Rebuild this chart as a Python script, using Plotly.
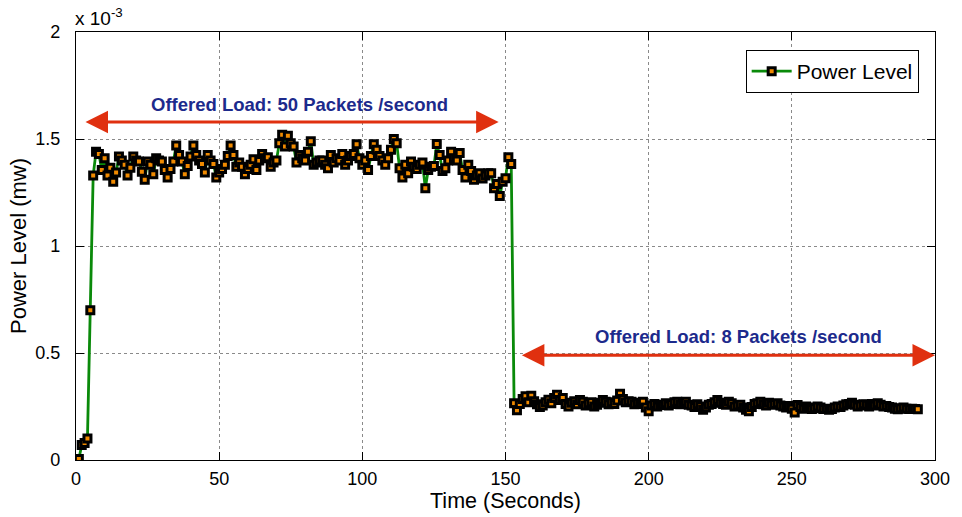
import plotly.graph_objects as go

# Sampling instants (seconds)
time_s = list(range(0, 295))

# Power level in units of 1e-3 mW, phase 1 (50 packets/s), t = 0..152
power_phase1 = [
    0.0, 0.005, 0.07, 0.08, 0.10, 0.70, 1.33, 1.44, 1.43, 1.355,
    1.41, 1.33, 1.366, 1.30, 1.343, 1.418, 1.40, 1.38, 1.33, 1.366,
    1.418, 1.40, 1.395, 1.347, 1.31, 1.395, 1.38, 1.335, 1.41, 1.40,
    1.395, 1.355, 1.32, 1.36, 1.395, 1.47, 1.425, 1.395, 1.335, 1.374,
    1.418, 1.47, 1.425, 1.40, 1.383, 1.343, 1.425, 1.40, 1.383, 1.32,
    1.343, 1.36, 1.38, 1.42, 1.47, 1.425, 1.37, 1.39, 1.37, 1.335,
    1.36, 1.38, 1.405, 1.355, 1.40, 1.43, 1.41, 1.415, 1.37, 1.39,
    1.40, 1.48, 1.52, 1.465, 1.515, 1.48, 1.465, 1.39, 1.425, 1.41,
    1.40, 1.44, 1.49, 1.38, 1.39, 1.40, 1.40, 1.38, 1.363, 1.425,
    1.39, 1.41, 1.40, 1.43, 1.38, 1.40, 1.42, 1.43, 1.475, 1.41,
    1.38, 1.40, 1.355, 1.42, 1.475, 1.45, 1.42, 1.40, 1.38, 1.41,
    1.45, 1.50, 1.48, 1.363, 1.32, 1.38, 1.34, 1.395, 1.37, 1.36,
    1.38, 1.39, 1.27, 1.355, 1.37, 1.374, 1.477, 1.425, 1.35, 1.363,
    1.40, 1.44, 1.41, 1.40, 1.434, 1.355, 1.32, 1.38, 1.35, 1.31,
    1.33, 1.34, 1.315, 1.33, 1.34, 1.34, 1.27, 1.29, 1.234, 1.30,
    1.317, 1.415, 1.383,
]

# Phase 2 (8 packets/s), t = 153..294
power_phase2 = [
    0.265, 0.232, 0.262, 0.285, 0.298, 0.27, 0.30, 0.275, 0.26, 0.248,
    0.255, 0.27, 0.282, 0.265, 0.29, 0.305, 0.28, 0.29, 0.262, 0.25,
    0.268, 0.275, 0.26, 0.28, 0.272, 0.255, 0.265, 0.27, 0.25, 0.258,
    0.268, 0.28, 0.272, 0.26, 0.27, 0.262, 0.278, 0.31, 0.285, 0.27,
    0.275, 0.272, 0.26, 0.268, 0.262, 0.272, 0.245, 0.228, 0.255, 0.262,
    0.25, 0.258, 0.257, 0.265, 0.255, 0.262, 0.27, 0.272, 0.26, 0.268,
    0.272, 0.258, 0.255, 0.248, 0.26, 0.25, 0.235, 0.245, 0.258, 0.262,
    0.27, 0.28, 0.268, 0.262, 0.258, 0.272, 0.265, 0.25, 0.255, 0.258,
    0.245, 0.235, 0.228, 0.248, 0.262, 0.265, 0.272, 0.26, 0.255, 0.268,
    0.258, 0.262, 0.265, 0.255, 0.25, 0.245, 0.252, 0.24, 0.222, 0.257,
    0.248, 0.24, 0.25, 0.245, 0.238, 0.242, 0.25, 0.245, 0.238, 0.24,
    0.235, 0.238, 0.245, 0.25, 0.248, 0.255, 0.26, 0.262, 0.268, 0.258,
    0.25, 0.255, 0.26, 0.258, 0.25, 0.262, 0.255, 0.265, 0.258, 0.25,
    0.252, 0.248, 0.245, 0.24, 0.237, 0.242, 0.245, 0.24, 0.238, 0.24,
    0.238, 0.237,
]

power = power_phase1 + power_phase2

x_ticks = [0, 50, 100, 150, 200, 250, 300]
y_ticks = [0, 0.5, 1, 1.5, 2]
y_tick_text = ["0", "0.5", "1", "1.5", "2"]

load_labels = ["Offered Load: 50 Packets /second", "Offered Load: 8 Packets /second"]
load_spans = [(2.8, 147.6), (155.2, 300)]
load_arrow_y = [1.579, 0.49]
load_text_pos = [(78, 1.66), (231.5, 0.577)]

FONT = "Liberation Sans, Arial, Helvetica, sans-serif"
LABEL_BLUE = "#1c2a8c"
ARROW_RED = "#e0300f"

fig = go.Figure()
fig.add_trace(go.Scatter(
    x=time_s, y=power, mode="lines+markers", name="Power Level",
    line=dict(color="#0a8a0a", width=2.8),
    marker=dict(symbol="square", size=7, color="#f08a00",
                line=dict(color="black", width=3)),
))

for (x0, x1), ya in zip(load_spans, load_arrow_y):
    fig.add_annotation(x=x1, y=ya, ax=x0, ay=ya, xref="x", yref="y",
                       axref="x", ayref="y", text="", showarrow=True,
                       arrowhead=2, arrowside="end+start", arrowsize=1.5,
                       arrowwidth=3, arrowcolor=ARROW_RED)

for label, (tx, ty) in zip(load_labels, load_text_pos):
    fig.add_annotation(x=tx, y=ty, xref="x", yref="y", text=f"<b>{label}</b>",
                       showarrow=False, font=dict(family=FONT, size=18.5, color=LABEL_BLUE))

# Exponent marker above the y axis
fig.add_annotation(x=0, y=1, xref="paper", yref="paper", xanchor="left", yanchor="bottom",
                   xshift=-3, yshift=1, text="x 10<sup>-3</sup>", showarrow=False,
                   font=dict(family=FONT, size=19, color="black"))

axis_common = dict(
    showline=True, linecolor="black", linewidth=1.3, mirror="allticks",
    ticks="inside", ticklen=8, tickcolor="black", tickwidth=1,
    showgrid=True, gridcolor="#8a8a8a", griddash="dot", gridwidth=1,
    zeroline=False, tickfont=dict(family=FONT, size=18, color="black"),
)

fig.update_xaxes(range=[0, 300], tickvals=x_ticks, ticklabelstandoff=2,
                 title=dict(text="Time (Seconds)", standoff=0,
                            font=dict(family=FONT, size=21.5, color="black")),
                 **axis_common)
fig.update_yaxes(range=[0, 2], tickvals=y_ticks, ticktext=y_tick_text,
                 ticklabelstandoff=11,
                 title=dict(text="Power Level (mw)", standoff=2,
                            font=dict(family=FONT, size=22, color="black")),
                 **axis_common)

fig.update_layout(
    width=962, height=517,
    margin=dict(l=76, r=24, t=32, b=57),
    paper_bgcolor="white", plot_bgcolor="white",
    font=dict(family=FONT, color="black"),
    showlegend=True,
    legend=dict(x=0.981, y=0.958, xanchor="right", yanchor="top",
                bgcolor="white", bordercolor="black", borderwidth=1,
                font=dict(family=FONT, size=21, color="black"),
                itemwidth=40),
)

fig.write_html("out.html")
